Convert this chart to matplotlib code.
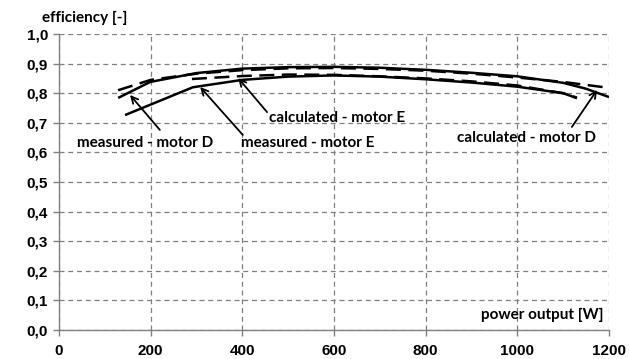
import matplotlib
matplotlib.use('Agg')
import matplotlib.pyplot as plt
from matplotlib.ticker import MultipleLocator, FuncFormatter

# power output [W] vs efficiency [-]
measured_D_x = [129, 199, 300, 400, 500, 600, 700, 800, 900, 1000, 1100, 1150, 1200]
measured_D_y = [0.784, 0.838, 0.868, 0.883, 0.888, 0.889, 0.886, 0.879, 0.869, 0.857, 0.835, 0.815, 0.787]

calculated_D_x = [129, 200, 300, 400, 500, 600, 700, 800, 900, 1000, 1100, 1200]
calculated_D_y = [0.81, 0.845, 0.866, 0.878, 0.884, 0.885, 0.882, 0.876, 0.866, 0.853, 0.838, 0.818]

measured_E_x = [144, 292, 400, 500, 600, 700, 800, 900, 1000, 1100, 1130]
measured_E_y = [0.726, 0.82, 0.845, 0.856, 0.86, 0.856, 0.847, 0.836, 0.822, 0.80, 0.783]

calculated_E_x = [290, 400, 500, 600, 700, 800, 900, 1000, 1100, 1130]
calculated_E_y = [0.848, 0.858, 0.863, 0.862, 0.857, 0.85, 0.84, 0.826, 0.80, 0.785]

x_ticks = [0, 200, 400, 600, 800, 1000, 1200]

# label text, text anchor, arrow tail, arrow tip
annotations = [
    ('measured - motor D', (188, 0.632), (220, 0.676), (155, 0.794), 'center'),
    ('measured - motor E', (397, 0.632), (401, 0.659), (308, 0.821), 'left'),
    ('calculated - motor E', (458, 0.716), (454, 0.736), (391, 0.851), 'left'),
    ('calculated - motor D', (868, 0.649), (1119, 0.686), (1174, 0.811), 'left'),
]

fig = plt.figure(figsize=(6.29, 3.59), dpi=100)
ax = fig.add_axes([0.0938, 0.0808, 0.8744, 0.8245])

lw = 1.8
ax.plot(measured_D_x, measured_D_y, color='black', lw=lw, solid_capstyle='butt')
ax.plot(calculated_D_x, calculated_D_y, color='black', lw=lw, dashes=(6, 3))
ax.plot(measured_E_x, measured_E_y, color='black', lw=lw, solid_capstyle='butt')
ax.plot(calculated_E_x, calculated_E_y, color='black', lw=lw, dashes=(6, 3))

label_font = dict(family='Lato', weight='bold', size=11)
for text, pos, tail, tip, ha in annotations:
    ax.annotate('', xy=tip, xytext=tail,
                arrowprops=dict(arrowstyle='->', color='black', lw=1.3,
                                shrinkA=0, shrinkB=0, mutation_scale=12))
    ax.text(pos[0], pos[1], text, ha=ha, va='center', **label_font)

ax.set_xlim(0, 1200)
ax.set_ylim(0, 1.0)
ax.set_xticks(x_ticks)
ax.yaxis.set_major_locator(MultipleLocator(0.1))
ax.yaxis.set_major_formatter(FuncFormatter(lambda v, p: ('%.1f' % v).replace('.', ',')))

for lab in ax.get_xticklabels() + ax.get_yticklabels():
    lab.set_family('Liberation Sans')
    lab.set_weight('bold')
    lab.set_fontsize(11)

ax.tick_params(axis='both', direction='out', length=4, width=1, color='#808080')
ax.tick_params(axis='x', pad=6)
ax.tick_params(axis='y', pad=4)

ax.grid(True, color='#808080', lw=0.9, linestyle=(0, (4, 3)))
ax.set_axisbelow(True)
for s in ['top', 'right']:
    ax.spines[s].set_visible(False)
for s in ['left', 'bottom']:
    ax.spines[s].set_color('#808080')
    ax.spines[s].set_linewidth(1.0)

ax.text(1187, 0.05, 'power output [W]', ha='right', va='center', **label_font)
ax.text(-0.031, 1.054, 'efficiency [-]', transform=ax.transAxes, ha='left', va='center', **label_font)

fig.savefig('out.png', dpi=100)
